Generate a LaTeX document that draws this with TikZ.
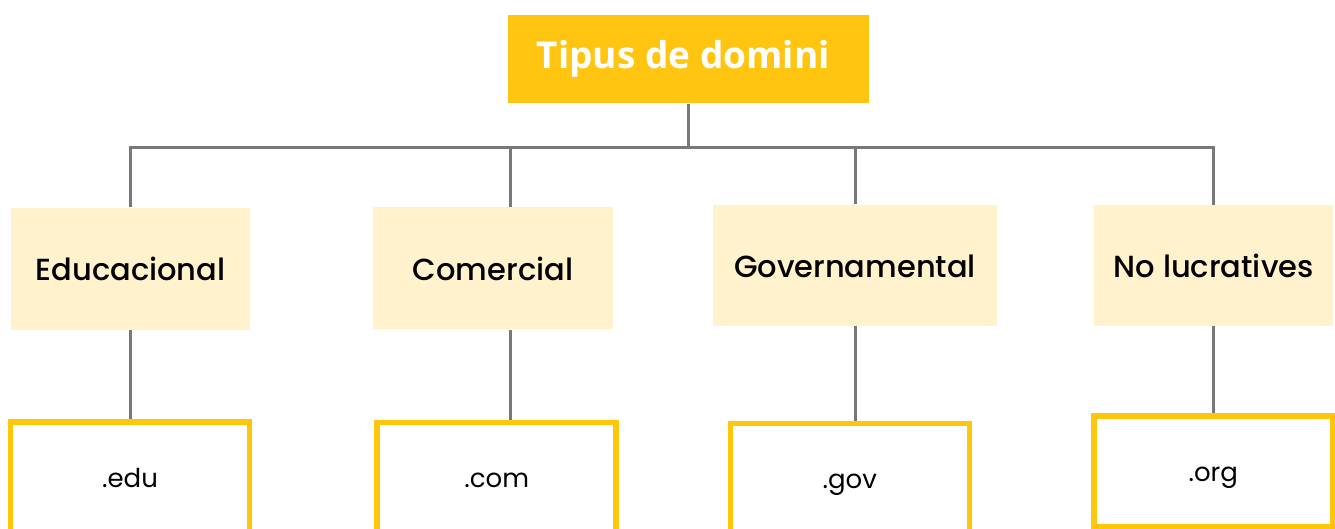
\documentclass[tikz,border=0pt]{standalone}
\usepackage{fontspec}
\setmainfont{Poppins}
\newfontfamily\catfont{Poppins Medium}
\newfontfamily\titlefont{Open Sans}
\definecolor{gold}{HTML}{FFC510}
\definecolor{cream}{HTML}{FFF2CC}
\definecolor{rim}{HTML}{FFC60B}
\definecolor{wire}{HTML}{787878}
\tikzset{
  titlebox/.style={fill=gold, draw=none, inner sep=0pt, minimum width=361pt, minimum height=88.3pt,
    text=white, font=\titlefont\bfseries\fontsize{37}{40}\selectfont},
  catbox/.style={fill=cream, draw=none, inner sep=0pt, minimum height=122pt,
    text height=23.5pt, text depth=0pt, font=\catfont\fontsize{30.5}{32}\selectfont},
  leafbox/.style={fill=white, draw=rim, line width=5.5pt, inner sep=0pt, minimum width=239pt, minimum height=111pt,
    text height=19pt, text depth=0pt, font=\fontsize{26}{28}\selectfont},
  conn/.style={draw=wire, line width=3pt}
}
\begin{document}
\begin{tikzpicture}[x=1pt,y=-1pt]
\useasboundingbox (0,0) rectangle (1335,529);
\node[titlebox] (title) at (688.2,59.2) {Tipus de domini\hspace*{10pt}};
\node[catbox, minimum width=238.7pt] (edu2) at (130.5,268.7) {Educacional};
\node[catbox, minimum width=239.4pt] (com2) at (493,268.3) {Comercial};
\node[catbox, minimum width=283.4pt, minimum height=121.3pt] (gov2) at (855,265.3) {Governamental};
\node[catbox, minimum width=239.3pt, minimum height=121pt] (org2) at (1213.7,265.5) {No lucratives};
\node[leafbox] (edu3) at (130,477.5) {.edu};
\node[leafbox] (com3) at (496.7,477.8) {.com};
\node[leafbox] (gov3) at (849.8,479.2) {.gov};
\node[leafbox] (org3) at (1213.3,471.5) {.org};
\coordinate (bus) at (0,148);
\coordinate (comx) at (510,0);
\draw[conn] (edu2.north) -- (edu2.north |- bus) -- (org2.north |- bus) -- (org2.north);
\draw[conn] (title.south) -- (title.south |- bus);
\draw[conn] (com2.north -| comx) -- (comx |- bus);
\draw[conn] (gov2.north) -- (gov2.north |- bus);
\draw[conn] (edu2.south) -- (edu2.south |- edu3.north);
\draw[conn] (com2.south -| comx) -- (com3.north -| comx);
\draw[conn] (gov2.south) -- (gov2.south |- gov3.north);
\draw[conn] (org2.south) -- (org2.south |- org3.north);
\end{tikzpicture}
\end{document}
